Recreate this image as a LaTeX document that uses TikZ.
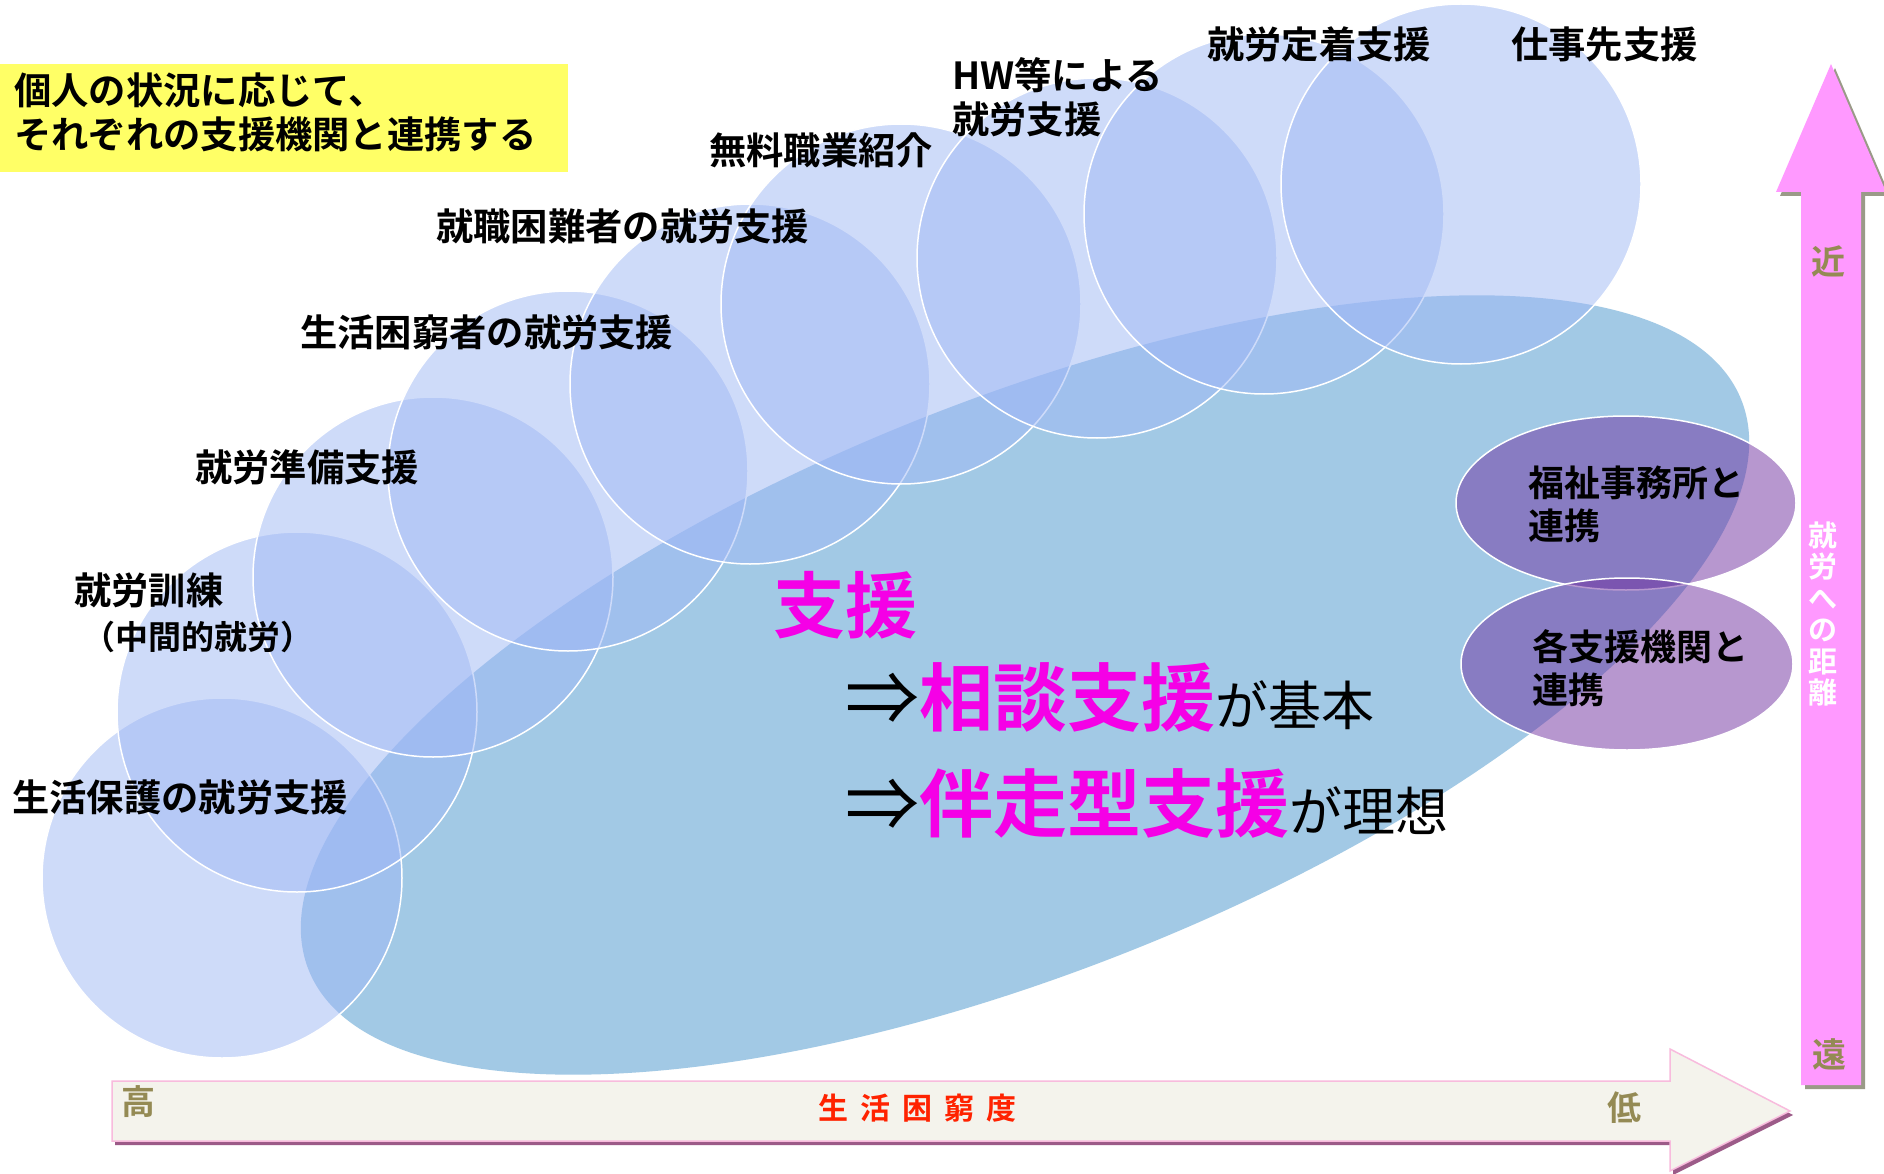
\documentclass[tikz,border=0pt]{standalone}
\usepackage{fontspec}
\setmainfont{Noto Sans CJK JP}[BoldFont={Noto Sans CJK JP Bold}]
\usetikzlibrary{shapes.geometric}
\definecolor{bigblue}{HTML}{A2C9E5}
\definecolor{circblue}{HTML}{9FB8F5}
\definecolor{purp}{HTML}{7030A0}
\definecolor{yel}{HTML}{FFFF66}
\definecolor{mag}{HTML}{F500E6}
\definecolor{olivet}{HTML}{948A54}
\definecolor{pinkarr}{HTML}{FF99FF}
\definecolor{redt}{HTML}{FF2200}
\definecolor{offw}{HTML}{F4F3EC}
\definecolor{arrshadow}{HTML}{9C5B88}
\definecolor{grayshadow}{HTML}{9A9A88}
\definecolor{pinkline}{HTML}{F8BBDD}
\begin{document}
\begin{tikzpicture}[x=1pt,y=-1pt,
  lbl/.style={anchor=west,inner sep=0pt,align=left,font=\fontsize{37.3}{44}\selectfont\bfseries,text=black},
  circ/.style={circle,minimum size=360pt,inner sep=0pt,fill=circblue,fill opacity=0.5,draw=white,line width=1.5pt},
  purpell/.style={ellipse,inner sep=0pt,fill=purp,fill opacity=0.5,draw=white,line width=1.5pt},
  axislbl/.style={inner sep=0pt,font=\fontsize{34}{40}\selectfont\bfseries,text=olivet}]
\useasboundingbox (0,0) rectangle (1884,1174);
\fill[white] (0,0) rectangle (1884,1174);
% large ellipse
\fill[bigblue, rotate around={21.7:(1025,685)}] (1025,685) ellipse [x radius=771pt, y radius=286pt];
% circles
\node[circ] (c1) at (222,878) {};
\node[circ] (c2) at (297,712) {};
\node[circ] (c3) at (433,577) {};
\node[circ] (c4) at (568,471) {};
\node[circ] (c5) at (750,384) {};
\node[circ] (c6) at (901,304) {};
\node[circ] (c7) at (1097,258) {};
\node[circ] (c8) at (1264,214) {};
\node[circ] (c9) at (1461,184) {};
% purple ellipses
\node[purpell,minimum width=340pt,minimum height=174pt] (e1) at (1626,503) {};
\node[purpell,minimum width=332pt,minimum height=172pt] (e2) at (1627,664) {};
\node[lbl,font=\fontsize{36}{43}\selectfont\bfseries] (t1) at (1528,504) {福祉事務所と\\連携};
\node[lbl,font=\fontsize{36}{43}\selectfont\bfseries] (t2) at (1532,668) {各支援機関と\\連携};
% yellow box
\node[anchor=north west,fill=yel,inner sep=0pt,minimum width=568pt,minimum height=108pt] (yb) at (0,64) {};
\node[lbl] (ybt) at (14,112) {個人の状況に応じて、\\それぞれの支援機関と連携する};
% labels
\node[lbl] (l1) at (12,797) {生活保護の就労支援};
\node[lbl] (l2) at (74,590) {就労訓練};
\node[lbl,font=\fontsize{33}{38}\selectfont\bfseries] (l2b) at (82,637) {（中間的就労）};
\node[lbl] (l3) at (195,467) {就労準備支援};
\node[lbl] (l4) at (300,332) {生活困窮者の就労支援};
\node[lbl] (l5) at (436,226) {就職困難者の就労支援};
\node[lbl] (l6) at (709,150) {無料職業紹介};
\node[lbl] (l7) at (952,97) {HW等による\\就労支援};
\node[lbl] (l8) at (1207,44) {就労定着支援};
\node[lbl] (l9) at (1511,44) {仕事先支援};
% main text
\node[anchor=west,inner sep=0pt,text=mag,font=\fontsize{72}{80}\selectfont\bfseries] (m0) at (773,605) {支援};
\node[anchor=west,inner sep=0pt] (m1) at (845,697) {\fontsize{74}{80}\selectfont ⇒\textcolor{mag}{\bfseries 相談支援}\fontsize{53}{60}\selectfont が基本};
\node[anchor=west,inner sep=0pt] (m2) at (845,803) {\fontsize{74}{80}\selectfont ⇒\textcolor{mag}{\bfseries 伴走型支援}\fontsize{53}{60}\selectfont が理想};
% vertical arrow
\fill[grayshadow] (1805,1089) -- (1805,196) -- (1780,196) -- (1835,68) -- (1890,196) -- (1865,196) -- (1865,1089) -- cycle;
\fill[pinkarr] (1801,1085) -- (1801,192) -- (1776,192) -- (1831,64) -- (1886,192) -- (1861,192) -- (1861,1085) -- cycle;
\node[axislbl] (near) at (1828,261) {近};
\node[axislbl] (far) at (1829,1054) {遠};
\node[inner sep=0pt,align=center,text=white,font=\fontsize{29}{31.5}\selectfont\bfseries] (dist) at (1823,614) {就\\労\\へ\\の\\距\\離};
% horizontal arrow
\fill[arrshadow] (115,1085) -- (1673,1085) -- (1673,1053) -- (1793,1115) -- (1673,1175) -- (1673,1145) -- (115,1145) -- cycle;
\filldraw[fill=offw,draw=pinkline,line width=1.5pt] (112,1081) -- (1670,1081) -- (1670,1049) -- (1790,1111) -- (1670,1171) -- (1670,1141) -- (112,1141) -- cycle;
\node[axislbl] (high) at (138,1102) {高};
\node[axislbl] (low) at (1624,1108) {低};
\node[inner sep=0pt,text=redt,font=\fontsize{30}{36}\selectfont\bfseries] (pov) at (917,1108) {生\hspace{12pt}活\hspace{12pt}困\hspace{12pt}窮\hspace{12pt}度};
\end{tikzpicture}
\end{document}
